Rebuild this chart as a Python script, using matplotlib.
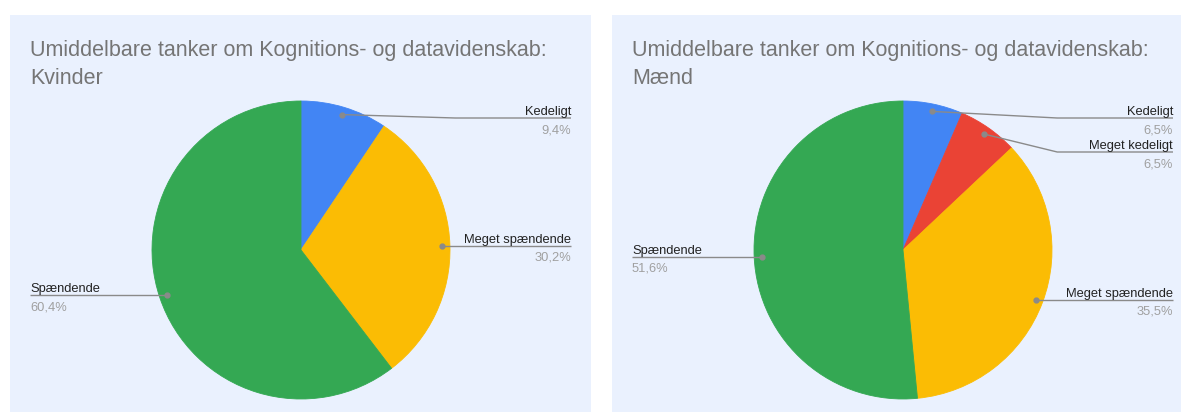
import matplotlib
matplotlib.use("Agg")
import matplotlib.pyplot as plt
from matplotlib.patches import Rectangle
import numpy as np

# ---- data ----
title_prefix = "Umiddelbare tanker om Kognitions- og datavidenskab:"
group_names = ["Kvinder", "Mænd"]
kvinder_labels = ["Kedeligt", "Meget spændende", "Spændende"]
kvinder_values = [9.4, 30.2, 60.4]
maend_labels = ["Kedeligt", "Meget kedeligt", "Meget spændende", "Spændende"]
maend_values = [6.5, 6.5, 35.5, 51.6]

color_map = {
    "Kedeligt": "#4285F4",
    "Meget kedeligt": "#EA4335",
    "Meget spændende": "#FBBC04",
    "Spændende": "#34A853",
}

# ---- layout (pixels) ----
W, H = 1181, 412
BG = "#eaf1fe"
panels = [(10, 15, 591, 412), (612, 15, 1181, 412)]
FONT = "Liberation Sans"

fig = plt.figure(figsize=(W / 100, H / 100), dpi=100)
fig.patch.set_facecolor("white")
ax = fig.add_axes([0, 0, 1, 1])


def fy(y):
    return H - y


datasets = [(kvinder_labels, kvinder_values), (maend_labels, maend_values)]

for (x0, y0, x1, y1), gname, (labels, values) in zip(panels, group_names, datasets):
    ax.add_patch(Rectangle((x0, fy(y1)), x1 - x0, y1 - y0, facecolor=BG,
                           edgecolor="none", zorder=0))
    cx, cy, r = x0 + 291, 250, 149
    ax.text(x0 + 20, fy(56), title_prefix, fontsize=15.5,
            color="#757575", family=FONT, ha="left", va="baseline", zorder=3)
    ax.text(x0 + 20, fy(83.5), gname, fontsize=15.5,
            color="#757575", family=FONT, ha="left", va="baseline", zorder=3)
    wedges, _ = ax.pie(values, colors=[color_map[l] for l in labels],
                       startangle=90, counterclock=False,
                       center=(cx, fy(cy)), radius=r,
                       wedgeprops=dict(linewidth=0.6))
    for w in wedges:
        w.set_edgecolor(w.get_facecolor())
        w.set_zorder(2)

    right, left = [], []
    for w, lab, val in zip(wedges, labels, values):
        mid = np.deg2rad((w.theta1 + w.theta2) / 2)
        dx_, dy_ = cx + 0.95 * r * np.cos(mid), cy - 0.95 * r * np.sin(mid)
        (right if np.cos(mid) >= 0 else left).append((dy_, dx_, lab, val))

    for side, items in (("right", right), ("left", left)):
        items.sort()
        prev = -1e9
        for dy_, dx_, lab, val in items:
            ly = max(dy_, prev + 34, 118)
            prev = ly
            if side == "right":
                xend = cx + 270
                bend = cx + r * 1.035 if abs(ly - dy_) > 1 else dx_
                ha = "right"
            else:
                xend = cx - 271
                bend = cx - r * 1.035 if abs(ly - dy_) > 1 else dx_
                ha = "left"
            xs = [dx_, bend, xend]
            ax.plot(xs, [fy(dy_), fy(ly), fy(ly)], color="#8a8a8a", lw=1,
                    zorder=3, solid_capstyle="butt")
            ax.plot([dx_], [fy(dy_)], "o", ms=3.5, color="#8a8a8a", zorder=4)
            ax.text(xend, fy(ly - 3), lab, fontsize=9.3, color="#222222",
                    family=FONT, ha=ha, va="baseline", zorder=4)
            pct = f"{val:.1f}".replace(".", ",") + "%"
            ax.text(xend, fy(ly + 15), pct, fontsize=9.3, color="#a0a0a0",
                    family=FONT, ha=ha, va="baseline", zorder=4)

ax.set_aspect("auto")
ax.set_xlim(0, W)
ax.set_ylim(0, H)
ax.axis("off")

fig.savefig("out.png", dpi=100, facecolor="white")
